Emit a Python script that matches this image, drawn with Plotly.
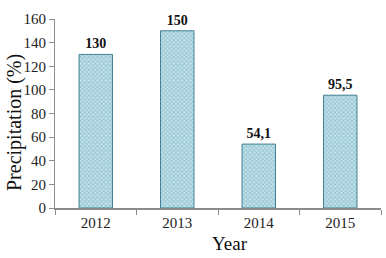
import plotly.graph_objects as go

years = ["2012", "2013", "2014", "2015"]
values = [130, 150, 54.1, 95.5]
labels = ["130", "150", "54,1", "95,5"]
yticks = [0, 20, 40, 60, 80, 100, 120, 140, 160]

fig = go.Figure()
fig.add_trace(go.Bar(
    x=years, y=values, text=labels, textposition="outside",
    textfont=dict(family="Liberation Serif", size=14, color="#111111", weight="bold"),
    width=0.41,
    marker=dict(
        color="#a2cfdb",
        line=dict(color="#3f7f92", width=1),
        pattern=dict(shape="x", bgcolor="#c8e5ed", fgcolor="#5fa3b7", size=3, solidity=0.5),
    ),
    cliponaxis=False,
))
fig.update_layout(
    width=386, height=258,
    margin=dict(l=55, r=5, t=19, b=50),
    paper_bgcolor="white", plot_bgcolor="white",
    showlegend=False,
    font=dict(family="Liberation Serif", color="#222222"),
    xaxis=dict(showline=True, linecolor="#8c8c8c", linewidth=1.5, ticks="outside",
               tickson="boundaries", ticklen=5, tickcolor="#8c8c8c",
               tickfont=dict(size=15), showgrid=False),
    yaxis=dict(range=[0, 160], tickvals=yticks, showline=True, linecolor="#8c8c8c",
               linewidth=1, ticks="outside", ticklen=5, tickcolor="#8c8c8c",
               tickfont=dict(size=15), showgrid=False, zeroline=False),
    annotations=[
        dict(text="Precipitation (%)", textangle=-90, showarrow=False,
             font=dict(size=20, color="#111111")),
        dict(text="Year", showarrow=False, font=dict(size=19, color="#111111")),
    ],
)
# convert pixel annotations to paper coordinates
pw, ph = 386 - 55 - 5, 258 - 19 - 50
fig.layout.annotations[0].update(xref="paper", yref="paper", x=(14 - 55) / pw, y=(258 - 50 - 123) / ph,
                                 xanchor="center", yanchor="middle")
fig.layout.annotations[1].update(xref="paper", yref="paper", x=(230 - 55) / pw, y=(258 - 50 - 243) / ph,
                                 xanchor="center", yanchor="middle")
fig.write_html("out.html")
